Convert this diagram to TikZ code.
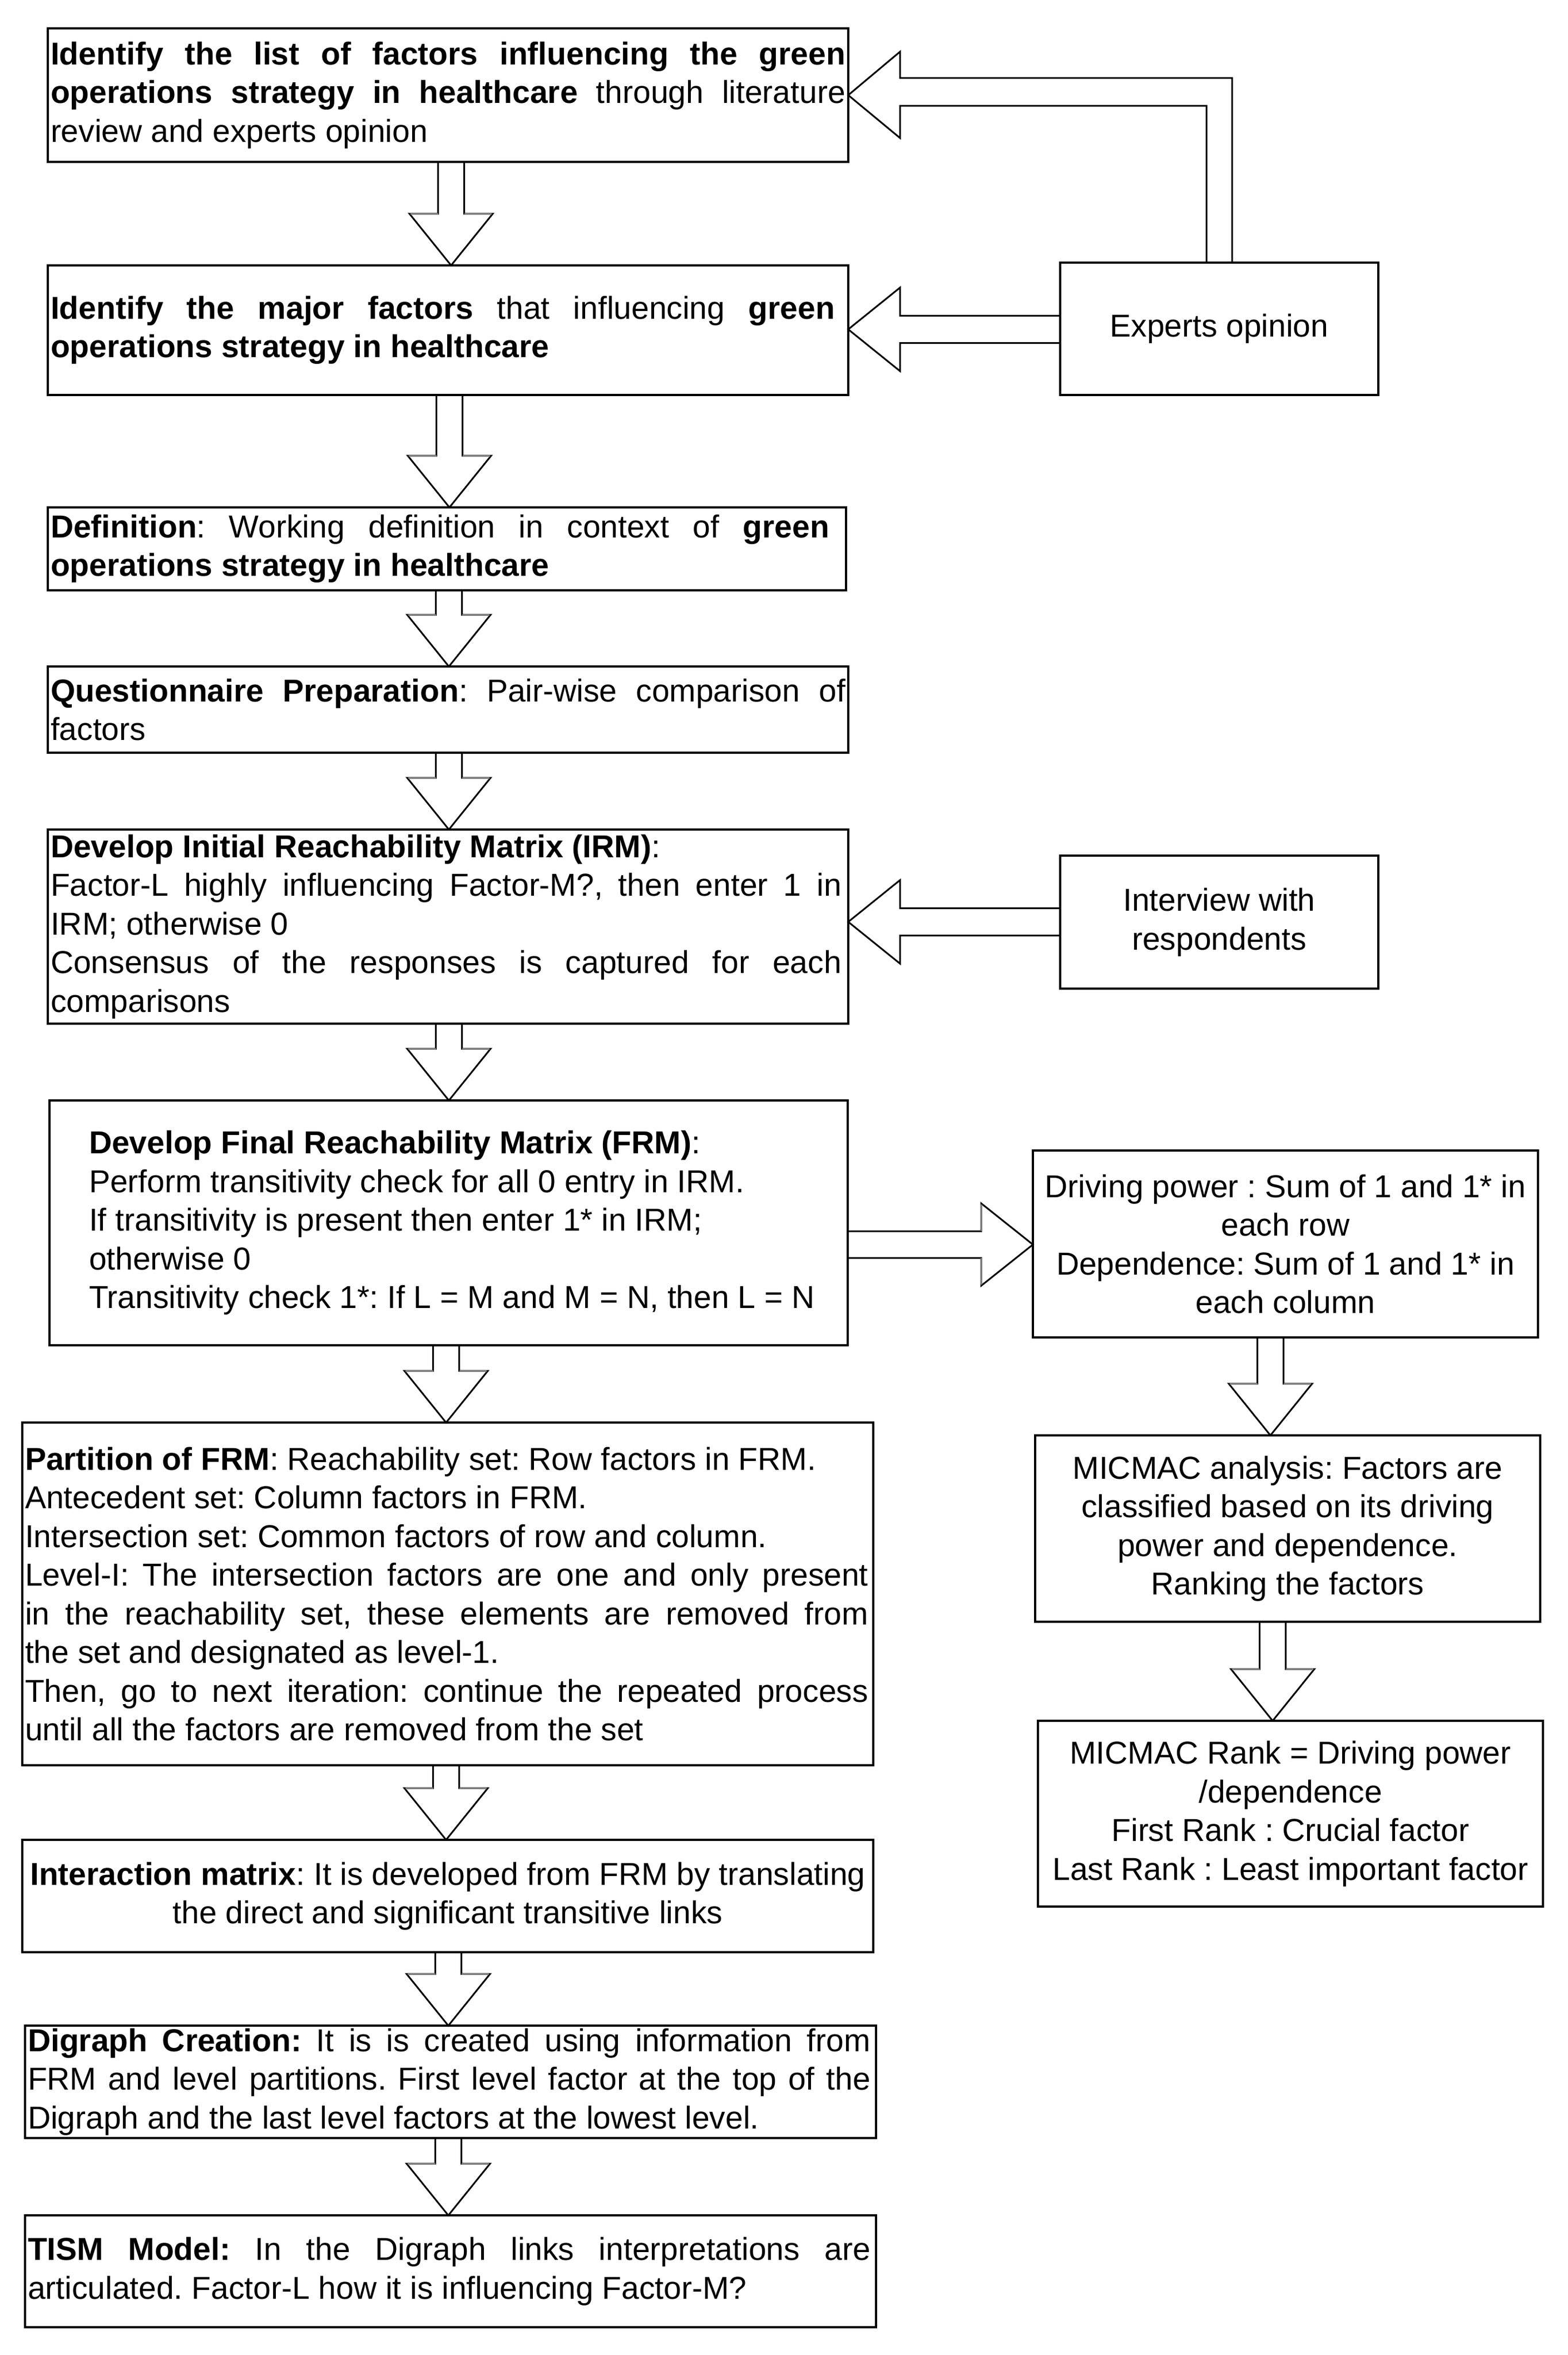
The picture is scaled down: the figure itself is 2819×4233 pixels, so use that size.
\documentclass[tikz,border=0pt]{standalone}
\usepackage{fontspec}
\setmainfont{Liberation Sans}
\usetikzlibrary{calc}
\pgfdeclarelayer{bg}
\pgfsetlayers{bg,main}
\frenchspacing
\newlength\jw
\newcommand\fs{\fontsize{57pt}{69.5pt}\selectfont\frenchspacing}
\newcommand\jl[1]{\makebox[\jw][s]{\spaceskip=0pt\xspaceskip=0pt #1}}
\newcommand\ml[1]{\mbox{\spaceskip=0pt\xspaceskip=0pt #1}}
\definecolor{edgegray}{RGB}{125,125,125}
\tikzset{
  box/.style={draw, line width=4pt, anchor=north west, outer sep=0pt,
    inner xsep=5pt, inner ysep=0pt, font=\fs, align=left},
  cbox/.style={box, align=center},
  tw/.style={text width=#1, execute at begin node={\setlength\jw{#1}}},
  arrline/.style={draw=black, fill=white, line width=3pt},
  grayedge/.style={draw=edgegray, line width=3pt}
}
% vertical block arrow: source, target, x centre
\newcommand\darr[3]{%
  \draw[arrline] let \p1=(#1.south), \p2=(#2.north) in
    ({#3pt-23.5pt},\y1) -- ({#3pt-23.5pt},{\y2+93pt}) -- ({#3pt-75pt},{\y2+93pt})
    -- (#3pt,\y2) -- ({#3pt+75pt},{\y2+93pt}) -- ({#3pt+23.5pt},{\y2+93pt})
    -- ({#3pt+23.5pt},\y1);
  \draw[grayedge] let \p2=(#2.north) in
    ({#3pt-73pt},{\y2+93pt}) -- ({#3pt-23.5pt},{\y2+93pt})
    ({#3pt+23.5pt},{\y2+93pt}) -- ({#3pt+73pt},{\y2+93pt});
}
% leftward block arrow: source (right), target (left), y centre
\newcommand\larr[3]{%
  \draw[arrline] let \p1=(#1.west), \p2=(#2.east) in
    (\x1,{-#3pt+24.5pt}) -- ({\x2+93pt},{-#3pt+24.5pt}) -- ({\x2+93pt},{-#3pt+75pt})
    -- (\x2,-#3pt) -- ({\x2+93pt},{-#3pt-75pt}) -- ({\x2+93pt},{-#3pt-24.5pt})
    -- (\x1,{-#3pt-24.5pt});
}
% rightward block arrow: source (left), target (right), y centre
\newcommand\rarr[3]{%
  \draw[arrline] let \p1=(#1.east), \p2=(#2.west) in
    (\x1,{-#3pt+24pt}) -- ({\x2-93pt},{-#3pt+24pt}) -- ({\x2-93pt},{-#3pt+74pt})
    -- (\x2,-#3pt) -- ({\x2-93pt},{-#3pt-74pt}) -- ({\x2-93pt},{-#3pt-24pt})
    -- (\x1,{-#3pt-24pt});
  \draw[grayedge] let \p2=(#2.west) in
    ({\x2-93pt},{-#3pt+72pt}) -- ({\x2-93pt},{-#3pt+24pt})
    ({\x2-93pt},{-#3pt-24pt}) -- ({\x2-93pt},{-#3pt-72pt});
}
\begin{document}
\begin{tikzpicture}[x=1pt,y=1pt]
\useasboundingbox (0,0) rectangle (2819,-4233);

\node[box, minimum width=1439pt, minimum height=240pt, tw=1429pt] (b1) at (86,-51)
 {\jl{\textbf{Identify the list of factors influencing the green}}\\
  \jl{\textbf{operations strategy in healthcare} through literature}\\
  \ml{review and experts opinion}};

\node[box, minimum width=1439pt, minimum height=233pt, tw=1429pt] (b2) at (86,-477)
 {\setlength\jw{1410pt}\jl{\textbf{Identify the major factors} that influencing \textbf{green}}\\
  \ml{\textbf{operations strategy in healthcare}}};

\node[cbox, minimum width=572pt, minimum height=238pt, text width=560pt] (exp) at (1906,-472)
 {\ml{Experts opinion}};

\node[box, minimum width=1435pt, minimum height=149pt, tw=1425pt] (def) at (86,-912)
 {\setlength\jw{1400pt}\jl{\textbf{Definition}: Working definition in context of \textbf{green}}\\
  \ml{\textbf{operations strategy in healthcare}}};

\node[box, minimum width=1439pt, minimum height=155pt, tw=1429pt] (qp) at (86,-1198)
 {\jl{\textbf{Questionnaire Preparation}: Pair-wise comparison of}\\
  \ml{factors}};

\node[box, minimum width=1439pt, minimum height=349pt, tw=1429pt] (irm) at (86,-1491)
 {\setlength\jw{1422pt}\ml{\textbf{Develop Initial Reachability Matrix (IRM)}:}\\
  \jl{Factor-L highly influencing Factor-M?, then enter 1 in}\\
  \ml{IRM; otherwise 0}\\
  \jl{Consensus of the responses is captured for each}\\
  \ml{comparisons}};

\node[cbox, minimum width=572pt, minimum height=239pt, text width=560pt] (int) at (1906,-1538)
 {\ml{Interview with}\\\ml{respondents}};

\node[box, minimum width=1435pt, minimum height=440pt, text width=1293pt] (frm) at (89,-1978)
 {\ml{\textbf{Develop Final Reachability Matrix (FRM)}:}\\
  \ml{Perform transitivity check for all 0 entry in IRM.}\\
  \ml{If transitivity is present then enter 1* in IRM;}\\
  \ml{otherwise 0}\\
  \ml{Transitivity check 1*: If L = M and M = N, then L = N}};

\node[cbox, minimum width=908pt, minimum height=336pt, text width=898pt] (drv) at (1857,-2068)
 {\ml{Driving power : Sum of 1 and 1* in}\\
  \ml{each row}\\
  \ml{Dependence: Sum of 1 and 1* in}\\
  \ml{each column}};

\node[box, minimum width=1530pt, minimum height=616pt, tw=1520pt] (part) at (40,-2557)
 {\setlength\jw{1516pt}\ml{\textbf{Partition of FRM}: Reachability set: Row factors in FRM.}\\
  \ml{Antecedent set: Column factors in FRM.}\\
  \ml{Intersection set: Common factors of row and column.}\\
  \jl{Level-I: The intersection factors are one and only present}\\
  \jl{in the reachability set, these elements are removed from}\\
  \ml{the set and designated as level-1.}\\
  \jl{Then, go to next iteration: continue the repeated process}\\
  \ml{until all the factors are removed from the set}};

\node[cbox, minimum width=908pt, minimum height=335pt, text width=898pt] (mic) at (1861,-2580)
 {\ml{MICMAC analysis: Factors are}\\
  \ml{classified based on its driving}\\
  \ml{power and dependence.}\\
  \ml{Ranking the factors}};

\node[cbox, minimum width=908pt, minimum height=334pt, text width=898pt] (rank) at (1866,-3093)
 {\ml{MICMAC Rank = Driving power}\\
  \ml{/dependence}\\
  \ml{First Rank : Crucial factor}\\
  \ml{Last Rank : Least important factor}};

\node[cbox, minimum width=1530pt, minimum height=202pt, text width=1520pt] (imx) at (40,-3307)
 {\ml{\textbf{Interaction matrix}: It is developed from FRM by translating}\\
  \ml{the direct and significant transitive links}};

\node[box, minimum width=1530pt, minimum height=202pt, tw=1520pt] (dig) at (45,-3641)
 {\setlength\jw{1515pt}\jl{\textbf{Digraph Creation:} It is is created using information from}\\
  \jl{FRM and level partitions. First level factor at the top of the}\\
  \ml{Digraph and the last level factors at the lowest level.}};

\node[box, minimum width=1530pt, minimum height=201pt, tw=1520pt] (tism) at (45,-3982)
 {\setlength\jw{1515pt}\jl{\textbf{TISM Model:} In the Digraph links interpretations are}\\
  \ml{articulated. Factor-L how it is influencing Factor-M?}};

\begin{pgfonlayer}{bg}
  \fill[white] (0,0) rectangle (2819,-4233);
  \darr{b1}{b2}{811}
  \darr{b2}{def}{808}
  \darr{def}{qp}{807}
  \darr{qp}{irm}{807}
  \darr{irm}{frm}{807}
  \darr{frm}{part}{802}
  \darr{part}{imx}{802}
  \darr{imx}{dig}{806}
  \darr{dig}{tism}{806}
  \darr{drv}{mic}{2284}
  \darr{mic}{rank}{2288}
  \larr{exp}{b2}{592}
  \larr{int}{irm}{1657}
  \rarr{frm}{drv}{2237}
  % bent arrow from the experts box up and back to the first box
  \draw[arrline] let \p1=(exp.north), \p2=(b1.east) in
    ({\x1-23pt},\y1) -- ({\x1-23pt},-190pt) -- ({\x2+93pt},-190pt)
    -- ({\x2+93pt},-248pt) -- (\x2,\y2) -- ({\x2+93pt},-93pt)
    -- ({\x2+93pt},-140pt) -- ({\x1+23pt},-140pt) -- ({\x1+23pt},\y1);
\end{pgfonlayer}
\end{tikzpicture}
\end{document}
